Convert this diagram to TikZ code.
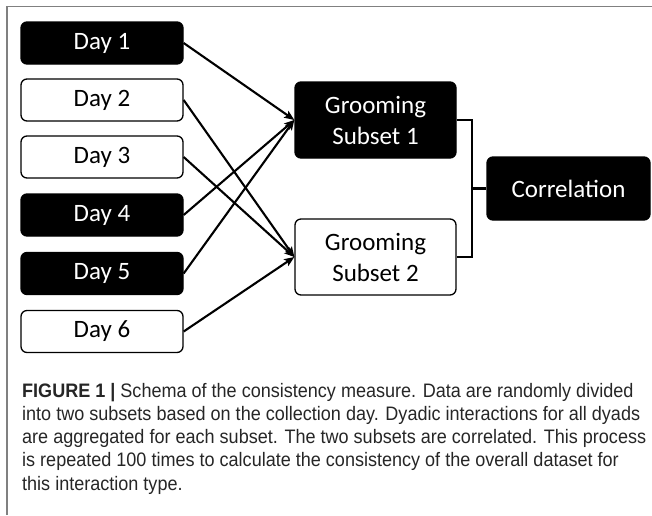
\documentclass[tikz,border=0pt]{standalone}
\usepackage{fontspec}
\usetikzlibrary{arrows.meta}
\newfontfamily\boxfont{Carlito}
\newfontfamily\capfont[FakeStretch=0.925]{Liberation Sans}

\begin{document}
\begin{tikzpicture}[x=1pt,y=-1pt,
  dark/.style={draw=black,fill=black,text=white,rounded corners=6pt,line width=1.3pt,inner sep=0pt},
  light/.style={draw=black,fill=white,text=black,rounded corners=6pt,line width=1.3pt,inner sep=0pt},
  daybox/.style={minimum width=162pt,minimum height=42pt,font=\boxfont\fontsize{25}{28}\selectfont},
  subbox/.style={minimum width=161pt,minimum height=76pt,align=center,font=\boxfont\fontsize{25}{31}\selectfont},
  link/.style={-{Stealth[length=10pt,width=8pt,inset=2pt]},line width=2.1pt}]
\useasboundingbox (0,0) rectangle (652,515);
\draw [gray,line width=1.3pt] (7,515) -- (7,6.5) -- (652,6.5);

% days
\node [dark,daybox] (d1) at (102,43) {Day 1};
\node [light,daybox] (d2) at (102,100) {Day 2};
\node [light,daybox] (d3) at (102,157) {Day 3};
\node [dark,daybox] (d4) at (102,215) {Day 4};
\node [dark,daybox] (d5) at (102,273.5) {Day 5};
\node [light,daybox] (d6) at (102,331.5) {Day 6};

% subsets and correlation
\node [dark,subbox] (s1) at (375.5,120) {Grooming\\Subset 1};
\node [light,subbox] (s2) at (375.5,257) {Grooming\\Subset 2};
\node [dark,minimum width=163pt,minimum height=63pt,font=\boxfont\fontsize{25}{28}\selectfont] (corr) at (568.5,188.5) {Correlation};

\draw [link] (d1.east) -- (s1.west);
\draw [link] (d4.east) -- (s1.west);
\draw [link] (d5.east) -- (s1.west);
\draw [link] (d2.east) -- (s2.west);
\draw [link] (d3.east) -- (s2.west);
\draw [link] (d6.east) -- (s2.west);

\coordinate (join) at (472,188.5);
\draw [line width=2.3pt] (s1.east) -| (join) |- (s2.east);
\draw [line width=2.3pt] (join) -- (corr.west);

% caption
\node [anchor=north west,align=left,inner sep=0pt,text=black!85,
  font=\capfont\fontsize{19.5}{23.2}\selectfont] (cap) at (22,383)
  {\textbf{FIGURE 1 |} Schema of the consistency measure. Data are randomly divided\\
   into two subsets based on the collection day. Dyadic interactions for all dyads\\
   are aggregated for each subset. The two subsets are correlated. This process\\
   is repeated 100 times to calculate the consistency of the overall dataset for\\
   this interaction type.};
\end{tikzpicture}
\end{document}
